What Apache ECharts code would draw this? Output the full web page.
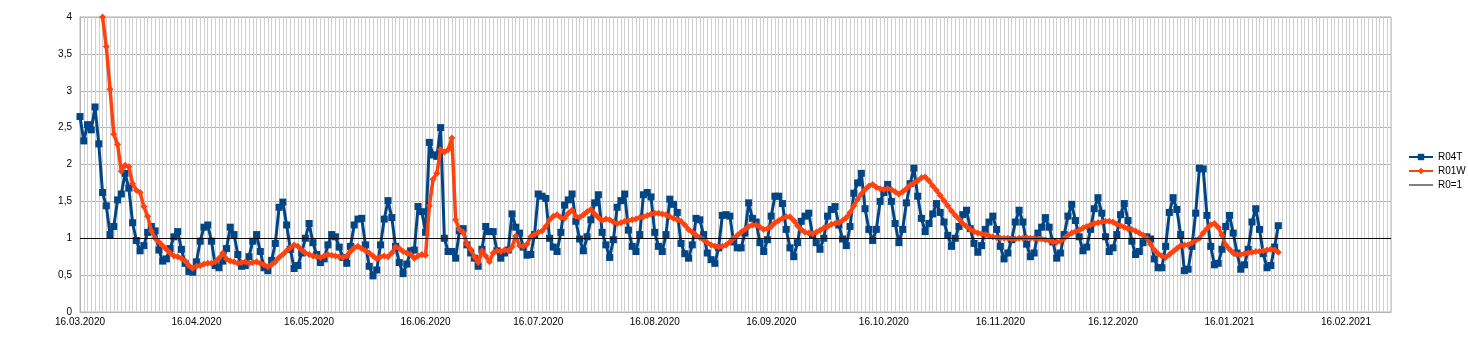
<!DOCTYPE html>
<html>
<head>
<meta charset="utf-8">
<script src="https://cdn.jsdelivr.net/npm/echarts@6/dist/echarts.min.js"></script>
<style>
html,body{margin:0;padding:0;background:#fff;}
#chart{width:1468px;height:341px;}
</style>
</head>
<body>
<div id="chart"></div>
<script>
// Daily categories from 16.03.2020 to 01.03.2021
const startDate = [2020, 3, 16];
const dayCount = 350;
const monthLabelDay = 16;

const yTicks = [0, 0.5, 1, 1.5, 2, 2.5, 3, 3.5, 4];

// R04T, one value per day from 16.03.2020
const r04t = [
  2.65, 2.32, 2.54, 2.47, 2.78, 2.28, 1.62, 1.44, 1.05, 1.16,
  1.52, 1.60, 1.88, 1.68, 1.21, 0.97, 0.83, 0.90, 1.08, 1.16,
  1.10, 0.84, 0.69, 0.72, 0.86, 1.02, 1.09, 0.85, 0.66, 0.55,
  0.54, 0.68, 0.96, 1.15, 1.18, 0.96, 0.63, 0.60, 0.69, 0.86,
  1.15, 1.05, 0.78, 0.62, 0.63, 0.75, 0.96, 1.05, 0.82, 0.60,
  0.56, 0.70, 0.93, 1.42, 1.49, 1.18, 0.85, 0.59, 0.63, 0.80,
  1.00, 1.20, 0.94, 0.78, 0.67, 0.72, 0.91, 1.05, 1.02, 0.88,
  0.74, 0.66, 0.89, 1.18, 1.26, 1.27, 0.91, 0.62, 0.49, 0.57,
  0.91, 1.26, 1.51, 1.28, 0.89, 0.67, 0.52, 0.65, 0.83, 0.84,
  1.43, 1.36, 1.08, 2.30, 2.13, 2.11, 2.50, 1.00, 0.82, 0.82,
  0.73, 1.10, 1.13, 0.91, 0.80, 0.73, 0.62, 0.85, 1.16, 1.09,
  1.09, 0.83, 0.73, 0.80, 0.84, 1.33, 1.15, 1.07, 0.88, 0.77,
  0.78, 1.05, 1.60, 1.57, 1.54, 1.00, 0.88, 0.82, 1.08, 1.45,
  1.52, 1.60, 1.23, 0.99, 0.83, 1.02, 1.25, 1.48, 1.59, 1.08,
  0.91, 0.74, 0.98, 1.42, 1.51, 1.60, 1.11, 0.89, 0.82, 1.05,
  1.59, 1.62, 1.56, 1.08, 0.89, 0.82, 1.05, 1.53, 1.46, 1.35,
  0.93, 0.79, 0.73, 0.91, 1.27, 1.25, 1.05, 0.80, 0.71, 0.66,
  0.87, 1.31, 1.32, 1.30, 0.95, 0.87, 0.87, 1.07, 1.48, 1.27,
  1.22, 0.94, 0.82, 0.98, 1.30, 1.57, 1.57, 1.47, 1.12, 0.87,
  0.75, 0.94, 1.23, 1.30, 1.34, 1.05, 0.94, 0.85, 1.00, 1.30,
  1.39, 1.43, 1.18, 0.99, 0.90, 1.16, 1.61, 1.75, 1.88, 1.40,
  1.12, 0.97, 1.12, 1.50, 1.62, 1.73, 1.50, 1.20, 0.94, 1.12,
  1.48, 1.74, 1.95, 1.57, 1.27, 1.09, 1.20, 1.33, 1.47, 1.35,
  1.22, 1.04, 0.89, 1.00, 1.16, 1.32, 1.38, 1.13, 0.93, 0.81,
  0.90, 1.12, 1.22, 1.30, 1.12, 0.89, 0.72, 0.80, 0.98, 1.22,
  1.38, 1.22, 0.92, 0.75, 0.80, 1.07, 1.15, 1.28, 1.15, 0.95,
  0.73, 0.80, 1.05, 1.30, 1.46, 1.24, 1.02, 0.83, 0.88, 1.12,
  1.40, 1.55, 1.34, 1.02, 0.82, 0.87, 1.05, 1.32, 1.47, 1.24,
  0.96, 0.78, 0.82, 0.94, 1.02, 0.99, 0.72, 0.60, 0.60, 0.89,
  1.35, 1.55, 1.39, 1.05, 0.56, 0.58, 0.89, 1.34, 1.95, 1.94,
  1.31, 0.89, 0.64, 0.66, 0.85, 1.16, 1.31, 1.07, 0.80, 0.58,
  0.64, 0.85, 1.22, 1.40, 1.12, 0.79, 0.60, 0.63, 0.88, 1.17
];

// R01W, one value per day from 16.03.2020 (first six days empty)
const r01w = [
  null, null, null, null, null, null, 4.00, 3.60, 3.02, 2.41,
  2.27, 1.91, 1.99, 1.97, 1.74, 1.65, 1.62, 1.43, 1.30, 1.10,
  1.00, 0.95, 0.90, 0.85, 0.80, 0.76, 0.75, 0.73, 0.69, 0.63,
  0.59, 0.62, 0.63, 0.65, 0.66, 0.66, 0.68, 0.73, 0.80, 0.72,
  0.69, 0.68, 0.66, 0.67, 0.68, 0.66, 0.67, 0.68, 0.66, 0.64,
  0.61, 0.64, 0.68, 0.74, 0.78, 0.83, 0.87, 0.91, 0.89, 0.84,
  0.80, 0.78, 0.76, 0.75, 0.74, 0.76, 0.78, 0.77, 0.76, 0.75,
  0.74, 0.76, 0.82, 0.87, 0.89, 0.86, 0.83, 0.80, 0.76, 0.72,
  0.75, 0.76, 0.75, 0.80, 0.88, 0.86, 0.82, 0.80, 0.78, 0.73,
  0.76, 0.78, 0.77, 1.44, 1.80, 1.88, 2.20, 2.17, 2.20, 2.36,
  1.25, 1.12, 1.08, 0.92, 0.85, 0.75, 0.67, 0.83, 0.76, 0.68,
  0.80, 0.83, 0.82, 0.84, 0.83, 0.88, 1.03, 0.90, 0.89, 0.92,
  1.02, 1.05, 1.08, 1.10, 1.16, 1.25, 1.30, 1.32, 1.28, 1.27,
  1.34, 1.38, 1.30, 1.28, 1.32, 1.36, 1.39, 1.33, 1.28, 1.24,
  1.26, 1.25, 1.22, 1.20, 1.21, 1.23, 1.24, 1.25, 1.26, 1.28,
  1.29, 1.31, 1.33, 1.34, 1.34, 1.33, 1.32, 1.29, 1.27, 1.25,
  1.23, 1.18, 1.12, 1.08, 1.04, 1.01, 0.98, 0.94, 0.91, 0.89,
  0.88, 0.89, 0.91, 0.95, 1.00, 1.04, 1.08, 1.12, 1.16, 1.18,
  1.18, 1.15, 1.12, 1.13, 1.16, 1.21, 1.24, 1.27, 1.29, 1.29,
  1.24, 1.17, 1.12, 1.08, 1.07, 1.06, 1.08, 1.11, 1.14, 1.16,
  1.19, 1.20, 1.21, 1.24, 1.28, 1.35, 1.44, 1.53, 1.60, 1.66,
  1.71, 1.73, 1.69, 1.67, 1.66, 1.67, 1.66, 1.63, 1.60, 1.63,
  1.67, 1.72, 1.75, 1.78, 1.82, 1.83, 1.78, 1.71, 1.65, 1.58,
  1.51, 1.44, 1.37, 1.31, 1.26, 1.20, 1.16, 1.12, 1.09, 1.07,
  1.06, 1.05, 1.03, 1.02, 1.01, 1.00, 1.00, 1.00, 0.99, 0.99,
  1.00, 1.00, 1.01, 1.00, 1.00, 0.99, 0.99, 0.98, 0.97, 0.95,
  0.95, 0.96, 1.00, 1.04, 1.07, 1.09, 1.11, 1.14, 1.16, 1.18,
  1.20, 1.21, 1.22, 1.23, 1.23, 1.22, 1.19, 1.17, 1.15, 1.13,
  1.12, 1.10, 1.07, 1.04, 1.00, 0.92, 0.84, 0.79, 0.76, 0.74,
  0.78, 0.82, 0.86, 0.90, 0.91, 0.91, 0.94, 0.97, 1.00, 1.07,
  1.13, 1.18, 1.20, 1.15, 1.04, 0.91, 0.85, 0.80, 0.78, 0.78,
  0.79, 0.80, 0.81, 0.82, 0.82, 0.83, 0.84, 0.85, 0.84, 0.81
];

const referenceLevel = 1;

// build calendar categories
function pad(n){ return (n < 10 ? '0' : '') + n; }
const categories = [];
const labelIndex = new Set();
{
  const d0 = new Date(Date.UTC(startDate[0], startDate[1] - 1, startDate[2]));
  for (let i = 0; i < dayCount; i++) {
    const d = new Date(d0.getTime() + i * 86400000);
    const dd = d.getUTCDate();
    categories.push(pad(dd) + '.' + pad(d.getUTCMonth() + 1) + '.' + d.getUTCFullYear());
    if (dd === monthLabelDay) labelIndex.add(i);
  }
}

const chart = echarts.init(document.getElementById('chart'), null, {renderer: 'canvas'});
const font = '"Liberation Sans", Arial, sans-serif';
chart.setOption({
  animation: false,
  backgroundColor: '#ffffff',
  textStyle: {fontFamily: font},
  grid: {left: 80, right: 77, top: 17, bottom: 29, show: true, borderColor: '#b3b3b3', borderWidth: 1, containLabel: false},
  legend: {
    orient: 'vertical',
    left: 1408, top: 151,
    padding: 0,
    itemWidth: 24, itemHeight: 8, itemGap: 2,
    textStyle: {fontSize: 10, color: '#000', fontFamily: font, lineHeight: 12},
    data: [
      {name: 'R04T'},
      {name: 'R01W'},
      {name: 'R0=1', itemStyle: {opacity: 0}, lineStyle: {color: '#000000', width: 1, opacity: 1}}
    ]
  },
  xAxis: {
    type: 'category',
    boundaryGap: false,
    data: categories,
    axisLine: {show: true, lineStyle: {color: '#b3b3b3', width: 1}},
    axisTick: {show: false},
    axisLabel: {
      interval: (idx) => labelIndex.has(idx),
      fontSize: 10, color: '#000', margin: 5, fontFamily: font
    },
    splitLine: {show: true, interval: 0, lineStyle: {color: '#d0d0d0', width: 1}}
  },
  yAxis: {
    type: 'value',
    min: yTicks[0], max: yTicks[yTicks.length - 1], interval: 0.5,
    axisLine: {show: true, lineStyle: {color: '#b3b3b3', width: 1}},
    axisTick: {show: false},
    axisLabel: {fontSize: 10, color: '#000', margin: 8, fontFamily: font,
      formatter: (v) => String(v).replace('.', ',')},
    splitLine: {show: true, lineStyle: {color: '#b3b3b3', width: 1}}
  },
  series: [
    {
      name: 'R0=1', type: 'line', data: [], symbol: 'none', z: 1,
      color: '#000000',
      lineStyle: {color: '#000000', width: 1},
      markLine: {
        silent: true, symbol: 'none', label: {show: false},
        lineStyle: {color: '#000000', width: 1, type: 'solid'},
        emphasis: {disabled: true},
        data: [{yAxis: referenceLevel}]
      }
    },
    {
      name: 'R04T', type: 'line', data: r04t, z: 2,
      color: '#004586',
      symbol: 'rect', symbolSize: 7, showAllSymbol: true,
      lineStyle: {color: '#004586', width: 3},
      itemStyle: {color: '#004586'},
      emphasis: {disabled: true}
    },
    {
      name: 'R01W', type: 'line', data: r01w, z: 3,
      color: '#ff420e',
      symbol: 'diamond', symbolSize: 7, showAllSymbol: true,
      lineStyle: {color: '#ff420e', width: 3.5},
      itemStyle: {color: '#ff420e'},
      emphasis: {disabled: true}
    }
  ]
});
</script>
</body>
</html>
